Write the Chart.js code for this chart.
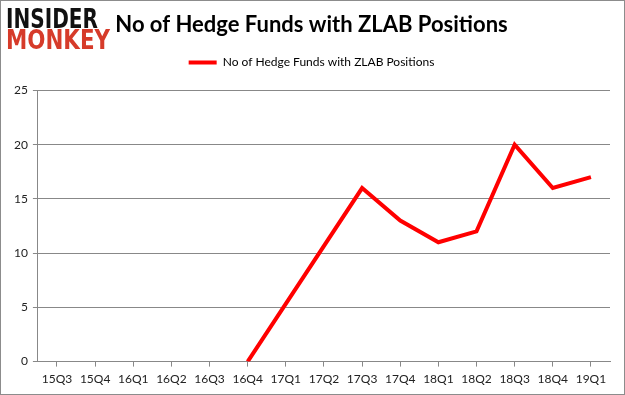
<!DOCTYPE html>
<html><head><meta charset="utf-8">
<script src="https://cdn.jsdelivr.net/npm/chart.js@4.4.1/dist/chart.umd.min.js"></script>
<style>html,body{margin:0;padding:0;background:#fff}#wrap{width:625px;height:395px;position:relative}</style>
</head><body><div id="wrap"><canvas id="c" width="625" height="395"></canvas></div>
<script>
const categories = ["15Q3","15Q4","16Q1","16Q2","16Q3","16Q4","17Q1","17Q2","17Q3","17Q4","18Q1","18Q2","18Q3","18Q4","19Q1"];
const hedgeFunds = [null,null,null,null,null,0,null,null,16,13,11,12,20,16,17];
const seriesName = "No of Hedge Funds with ZLAB Positions";
const chartTitle = "No of Hedge Funds with ZLAB Positions";
const yTicks = [0,5,10,15,20,25];

const spacer = {
  id:'spacer',
  beforeInit(chart){
    Chart.layouts.addBox(chart, {
      position:'top', weight:500, fullSize:true, options:{},
      isHorizontal(){return true;},
      update(w,h){this.width=w; this.height=12; return {};},
      draw(){}
    });
  }
};

const deco = {
  id:'deco',
  afterDraw(chart){
    const ctx = chart.ctx;
    ctx.save();
    ctx.strokeStyle = '#8c8c8c'; ctx.lineWidth = 1;
    ctx.strokeRect(0.5,0.5,624,394);
    ctx.textBaseline = 'alphabetic';
    ctx.textAlign = 'left';
    ctx.font = 'bold 26px "DejaVu Sans"';
    let w = ctx.measureText('INSIDER').width;
    ctx.fillStyle = '#111';
    ctx.save(); ctx.translate(6,28); ctx.scale(92/w,1); ctx.fillText('INSIDER',0,0); ctx.restore();
    w = ctx.measureText('MONKEY').width;
    ctx.fillStyle = '#d63b2a';
    ctx.save(); ctx.translate(6,49); ctx.scale(104/w,1); ctx.fillText('MONKEY',0,0); ctx.restore();
    ctx.restore();
  }
};

new Chart(document.getElementById('c'), {
  type:'line',
  data:{labels:categories, datasets:[{label:seriesName, data:hedgeFunds, borderColor:'#ff0000', backgroundColor:'#ff0000', borderWidth:4, pointRadius:0, tension:0, spanGaps:true}]},
  plugins:[spacer, deco],
  options:{
    responsive:false, animation:false, devicePixelRatio:1,
    layout:{padding:{left:13,right:15,top:0,bottom:4}},
    plugins:{
      title:{display:true, text:chartTitle, color:'#000', font:{family:'Lato', size:22, weight:'bold'}, padding:{top:12,bottom:0}},
      legend:{display:true, labels:{usePointStyle:true, pointStyle:'line', pointStyleWidth:28, boxHeight:4, color:'#000', font:{family:'Lato', size:12}, padding:18}},
      tooltip:{enabled:false}
    },
    scales:{
      x:{offset:true, grid:{display:true, drawOnChartArea:false, drawTicks:true, tickLength:5, color:'#888'}, border:{color:'#888'}, ticks:{color:'#222', font:{family:'Lato', size:12}, padding:5, maxRotation:0, autoSkip:false}},
      y:{min:0, max:25, afterBuildTicks(axis){axis.ticks = yTicks.map(v=>({value:v}));}, afterFit(scale){scale.width -= 4;}, grid:{color:'#888', tickLength:5}, border:{color:'#888'}, ticks:{color:'#222', font:{family:'Lato', size:12}, padding:5}}
    }
  }
});
</script></body></html>
